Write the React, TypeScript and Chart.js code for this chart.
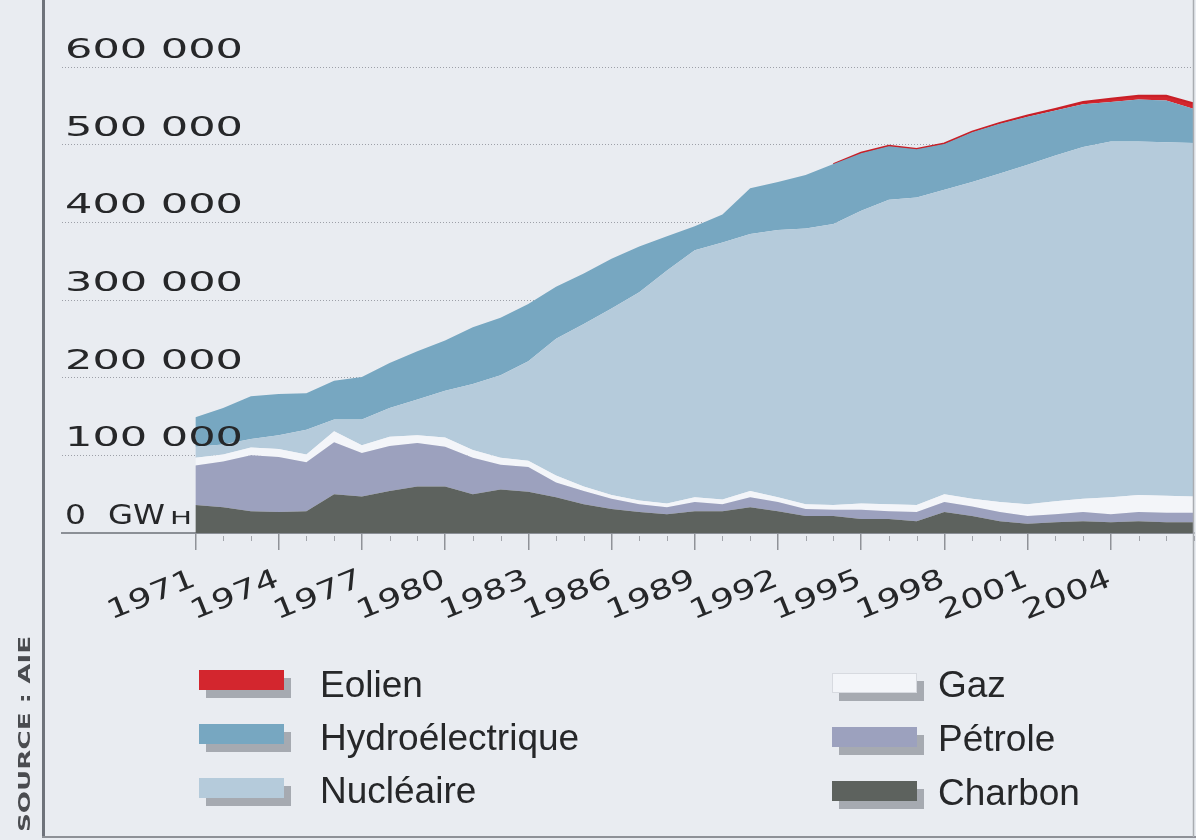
import React, { useEffect, useRef } from "react";
import { Chart, registerables } from "chart.js";

Chart.register(...registerables);

// ---------- DATA (GWh) ----------
const years = [
  1971, 1972, 1973, 1974, 1975, 1976, 1977, 1978, 1979, 1980,
  1981, 1982, 1983, 1984, 1985, 1986, 1987, 1988, 1989, 1990,
  1991, 1992, 1993, 1994, 1995, 1996, 1997, 1998, 1999, 2000,
  2001, 2002, 2003, 2004, 2005, 2006, 2007,
];
const charbon = [
  36000, 33000, 28000, 27000, 28000, 50000, 47000, 54000, 60000, 60000,
  50000, 56000, 53000, 46000, 37000, 31000, 27000, 24000, 28000, 28000,
  33000, 28000, 22000, 22000, 18000, 18000, 15000, 27000, 22000, 15000,
  12000, 14000, 15000, 14000, 15000, 14000, 14000,
];
const petrole = [
  51000, 59000, 72000, 71000, 63000, 67000, 56000, 58000, 56000, 51000,
  47000, 32000, 32000, 19000, 17000, 13000, 10000, 9000, 12000, 9000,
  13000, 12000, 9000, 8000, 12000, 10000, 12000, 13000, 12000, 12000,
  10000, 10000, 12000, 10000, 12000, 12000, 12000,
];
const gaz = [
  10000, 9000, 10000, 10000, 10000, 14000, 10000, 12000, 10000, 12000,
  10000, 9000, 8000, 9000, 6000, 5000, 5000, 5000, 6000, 6000,
  8000, 6000, 6000, 6000, 8000, 9000, 9000, 10000, 10000, 13000,
  15000, 17000, 17000, 22000, 22000, 22000, 21000,
];
const nucleaire = [
  14000, 13000, 11000, 18000, 32000, 15000, 33000, 37000, 46000, 60000,
  85000, 106000, 128000, 176000, 209000, 240000, 268000, 300000, 318000, 331000,
  331000, 344000, 355000, 362000, 377000, 392000, 396000, 392000, 408000, 423000,
  437000, 445000, 453000, 458000, 455000, 455000, 455000,
];
const hydro = [
  38000, 47000, 55000, 53000, 47000, 50000, 55000, 58000, 62000, 65000,
  73000, 74000, 74000, 67000, 65000, 64000, 59000, 44000, 31000, 36000,
  59000, 62000, 69000, 77000, 74000, 69000, 62000, 59000, 64000, 64000,
  62000, 58000, 55000, 51000, 54000, 54000, 44000,
];
const eolien = [
  0, 0, 0, 0, 0, 0, 0, 0, 0, 0,
  0, 0, 0, 0, 0, 0, 0, 0, 0, 0,
  0, 0, 0, 0, 500, 500, 500, 600, 800, 1000,
  1500, 2000, 3000, 4000, 5000, 6000, 7000,
];

const seriesLabels = ["Charbon", "Pétrole", "Gaz", "Nucléaire", "Hydroélectrique", "Eolien"];
const seriesColors = ["#5d625e", "#9ca1be", "#f3f5f9", "#b5cbdb", "#77a7c1", "#d3262e"];
const legendLeft = ["Eolien", "Hydroélectrique", "Nucléaire"];
const legendRight = ["Gaz", "Pétrole", "Charbon"];

const yTickValues = [0, 100000, 200000, 300000, 400000, 500000, 600000];
const yTickLabels = ["0 GWH", "100 000", "200 000", "300 000", "400 000", "500 000", "600 000"];
const xTickYears = [1971, 1974, 1977, 1980, 1983, 1986, 1989, 1992, 1995, 1998, 2001, 2004];
const sourceText = "SOURCE : AIE";

const BG = "#e9ecf1";
const TEXT = "#262729";
const AXIS_FONT = "'DejaVu Sans', sans-serif";
const LEGEND_FONT = "'Liberation Sans', Arial, sans-serif";

function fitText(
  ctx: CanvasRenderingContext2D,
  text: string,
  x: number,
  y: number,
  font: string,
  targetW: number,
  align: CanvasTextAlign = "left"
) {
  ctx.save();
  ctx.font = font;
  const w = ctx.measureText(text).width;
  const s = targetW / w;
  ctx.translate(x, y);
  ctx.scale(s, 1);
  ctx.textAlign = align;
  ctx.textBaseline = "alphabetic";
  ctx.fillText(text, 0, 0);
  ctx.restore();
}

const decorPlugin = {
  id: "decor",
  beforeDraw(chart: any) {
    const { ctx, width, height } = chart;
    ctx.save();
    ctx.fillStyle = BG;
    ctx.fillRect(0, 0, width, height);
    ctx.restore();
  },
  afterDraw(chart: any) {
    const ctx: CanvasRenderingContext2D = chart.ctx;
    const xs = chart.scales.x;
    const ys = chart.scales.y;
    const bottom = chart.chartArea.bottom;

    // minor year ticks
    ctx.save();
    ctx.strokeStyle = "#a2a5ab";
    ctx.lineWidth = 1;
    for (const yr of years) {
      if (xTickYears.includes(yr)) continue;
      const px = Math.round(xs.getPixelForValue(yr)) + 0.5;
      ctx.beginPath();
      ctx.moveTo(px, bottom + 3);
      ctx.lineTo(px, bottom + 8);
      ctx.stroke();
    }
    ctx.restore();

    ctx.save();
    ctx.fillStyle = TEXT;
    // y labels
    yTickValues.forEach((v, i) => {
      const py = ys.getPixelForValue(v) - 9;
      const label = yTickLabels[i];
      if (v === 0) {
        fitText(ctx, "0", 65, py, `26px ${AXIS_FONT}`, 21);
        fitText(ctx, "GW", 108, py, `26px ${AXIS_FONT}`, 57);
        fitText(ctx, "H", 170, py, `18px ${AXIS_FONT}`, 22);
      } else {
        fitText(ctx, label, 65, py, `27px ${AXIS_FONT}`, 178);
      }
    });

    // x labels (rotated)
    const ang = (-22 * Math.PI) / 180;
    xTickYears.forEach((yr) => {
      const px = xs.getPixelForValue(yr) + 2;
      ctx.save();
      ctx.translate(px, bottom + 52);
      ctx.rotate(ang);
      fitText(ctx, String(yr), 0, 0, `27px ${AXIS_FONT}`, 93, "right");
      ctx.restore();
    });
    ctx.restore();

    // frame
    ctx.save();
    ctx.strokeStyle = "#6f737b";
    ctx.lineWidth = 3;
    ctx.beginPath();
    ctx.moveTo(43.5, 0);
    ctx.lineTo(43.5, 838);
    ctx.stroke();
    ctx.strokeStyle = "#8e9197";
    ctx.lineWidth = 2;
    ctx.beginPath();
    ctx.moveTo(42, 837);
    ctx.lineTo(1196, 837);
    ctx.stroke();
    ctx.strokeStyle = "#a9acb1";
    ctx.lineWidth = 1.5;
    ctx.beginPath();
    ctx.moveTo(1193.5, 0);
    ctx.lineTo(1193.5, 837);
    ctx.stroke();
    ctx.restore();

    // source text (vertical)
    ctx.save();
    ctx.fillStyle = "#4a4c50";
    ctx.translate(30, 832);
    ctx.rotate(-Math.PI / 2);
    fitText(ctx, sourceText, 0, 0, `bold 15px ${AXIS_FONT}`, 196);
    ctx.restore();

    // legend
    const drawItem = (label: string, sx: number, sy: number, tx: number, ty: number) => {
      const idx = seriesLabels.indexOf(label);
      const color = seriesColors[idx];
      ctx.save();
      ctx.fillStyle = "#a6aab1";
      ctx.fillRect(sx + 7, sy + 8, 85, 20);
      ctx.fillStyle = color;
      ctx.fillRect(sx, sy, 85, 20);
      if (label === "Gaz") {
        ctx.strokeStyle = "#d7dae0";
        ctx.lineWidth = 1;
        ctx.strokeRect(sx + 0.5, sy + 0.5, 84, 19);
      }
      ctx.fillStyle = TEXT;
      ctx.font = `37px ${LEGEND_FONT}`;
      ctx.textAlign = "left";
      ctx.textBaseline = "alphabetic";
      ctx.fillText(label, tx, ty);
      ctx.restore();
    };
    legendLeft.forEach((l, i) => drawItem(l, 199, 670 + i * 54, 320, 697 + i * 53));
    legendRight.forEach((l, i) => drawItem(l, 832, 673 + i * 54, 938, 697 + i * 54));
  },
};

export default function App() {
  const ref = useRef<HTMLCanvasElement | null>(null);

  useEffect(() => {
    if (!ref.current) return;
    const series = [charbon, petrole, gaz, nucleaire, hydro, eolien];
    const datasets = series.map((vals, i) => {
      const isEol = seriesLabels[i] === "Eolien";
      return {
        label: seriesLabels[i],
        data: years.map((yr, k) => ({ x: yr, y: vals[k] })),
        backgroundColor: seriesColors[i],
        borderColor: isEol ? "#c81f27" : seriesColors[i],
        borderWidth: isEol ? 2 : 0,
        pointRadius: 0,
        tension: 0,
        fill: i === 0 ? "origin" : "-1",
        segment: isEol
          ? {
              borderColor: (c: any) =>
                eolien[c.p0DataIndex] === 0 && eolien[c.p1DataIndex] === 0 ? "rgba(0,0,0,0)" : "#c81f27",
            }
          : undefined,
      };
    });

    const chart = new Chart(ref.current, {
      type: "line",
      data: { datasets } as any,
      options: {
        responsive: false,
        animation: false,
        devicePixelRatio: 1,
        layout: { padding: { left: 62, right: 2, top: 67, bottom: 290 } },
        plugins: { legend: { display: false }, tooltip: { enabled: false }, title: { display: false } },
        scales: {
          x: {
            type: "linear",
            min: 1966.19,
            max: 2007,
            z: 1,
            ticks: { display: false },
            afterBuildTicks: (s: any) => {
              s.ticks = xTickYears.map((v) => ({ value: v }));
            },
            grid: { drawOnChartArea: false, drawTicks: true, tickLength: 17, color: "#8f9298", lineWidth: 1.5 },
            border: { display: true, color: "#8b8f96", width: 2 },
          },
          y: {
            stacked: true,
            min: 0,
            max: 600000,
            z: 1,
            ticks: { display: false, stepSize: 100000 },
            grid: {
              drawTicks: false,
              lineWidth: 1,
              color: (c: any) => (c.tick && c.tick.value === 0 ? "rgba(0,0,0,0)" : "rgba(95,98,108,0.55)"),
            },
            border: { display: false, dash: [1, 2] },
          },
        },
      } as any,
      plugins: [decorPlugin as any],
    });
    return () => chart.destroy();
  }, []);

  return (
    <div style={{ position: "absolute", left: 0, top: 0, width: 1196, height: 840, background: BG }}>
      <canvas ref={ref} width={1196} height={840} style={{ display: "block" }} />
    </div>
  );
}
